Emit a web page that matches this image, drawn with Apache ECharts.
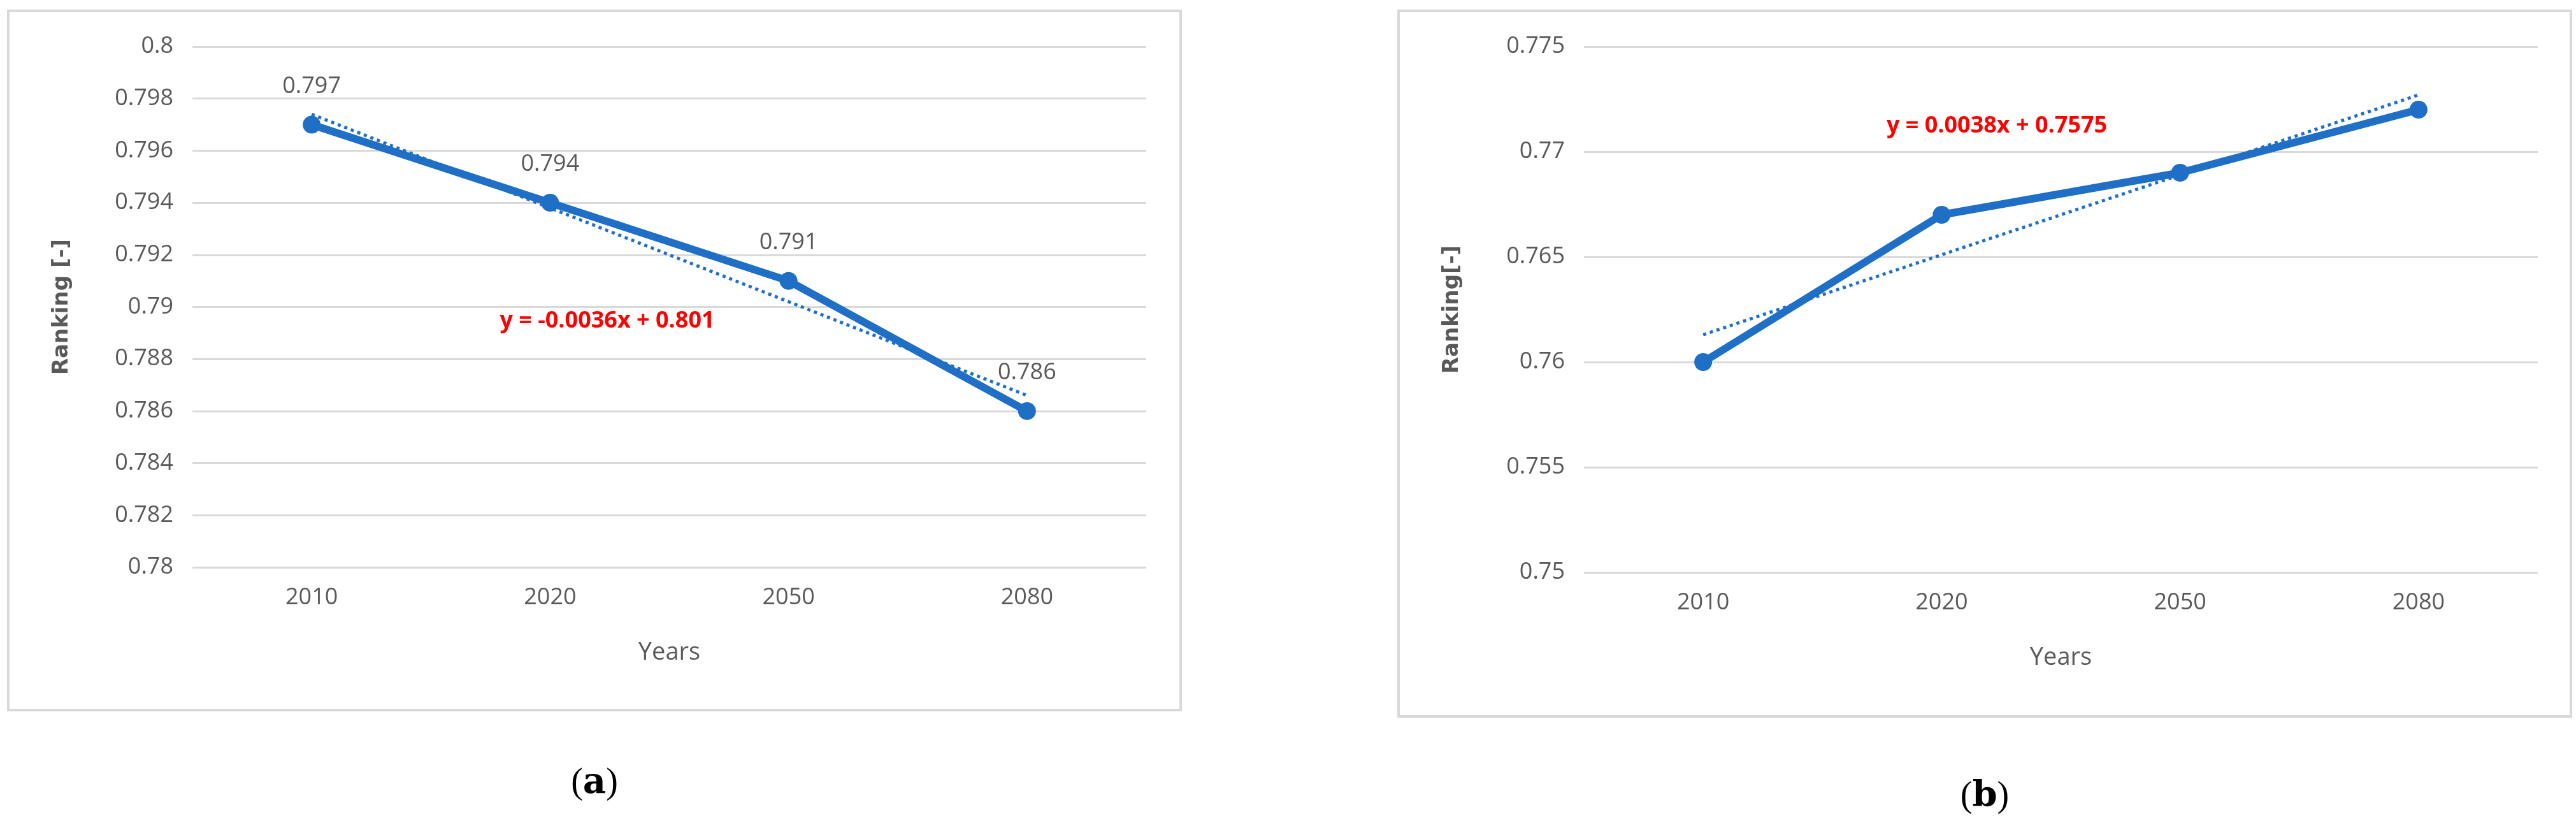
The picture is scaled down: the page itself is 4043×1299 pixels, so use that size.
<!DOCTYPE html>
<html><head><meta charset="utf-8">
<script src="https://cdn.jsdelivr.net/npm/echarts@6/dist/echarts.min.js"></script>
<style>html,body{margin:0;background:#fff}#c{width:4043px;height:1299px}</style>
</head><body><div id="c"></div>
<script>
const years = ['2010','2020','2050','2080'];
const rankA = [0.797, 0.794, 0.791, 0.786];
const trendA = [0.7974, 0.7938, 0.7902, 0.7866];
const rankB = [0.760, 0.767, 0.769, 0.772];
const trendB = [0.7613, 0.7651, 0.7689, 0.7727];
const eqA = 'y = -0.0036x + 0.801';
const eqB = 'y = 0.0038x + 0.7575';

const blue = '#1f6fc6';
const gray = '#595959';
const font = '"Liberation Sans Narrow","Open Sans",sans-serif';
const chart = echarts.init(document.getElementById('c'));

function xAxis(i){return {type:'category',gridIndex:i,data:years,boundaryGap:true,
  axisLine:{show:false},axisTick:{show:false},
  axisLabel:{color:gray,fontSize:36,fontFamily:font,margin:30},
  name:'Years',nameLocation:'middle',nameGap:115,nameTextStyle:{color:gray,fontSize:38,fontFamily:font}};}
function yAxis(i,min,max,intv,name,gap){return {type:'value',gridIndex:i,min:min,max:max,interval:intv,
  axisLine:{show:false},axisTick:{show:false},
  splitLine:{lineStyle:{color:'#d9d9d9',width:3}},
  axisLabel:{color:gray,fontSize:36,fontFamily:font,margin:30,formatter:v=>String(+v.toFixed(4))},
  name:name,nameLocation:'middle',nameGap:gap,nameRotate:90,
  nameTextStyle:{color:gray,fontSize:34,fontWeight:'bold',fontFamily:'"DejaVu Sans",sans-serif'}};}

chart.setOption({
  animation:false,
  grid:[{left:302,top:73,width:1497,height:817},{left:2486,top:73,width:1497,height:825}],
  xAxis:[xAxis(0),xAxis(1)],
  yAxis:[yAxis(0,0.78,0.8,0.002,'Ranking [-]',188),yAxis(1,0.75,0.775,0.005,'Ranking[-]',190)],
  series:[
    {type:'line',xAxisIndex:0,yAxisIndex:0,data:rankA,lineStyle:{color:blue,width:12},
     itemStyle:{color:blue},symbol:'circle',symbolSize:28,
     label:{show:true,position:'top',distance:28,color:gray,fontSize:36,fontFamily:font},z:3},
    {type:'line',xAxisIndex:0,yAxisIndex:0,data:trendA,symbol:'none',
     lineStyle:{color:blue,width:5,type:[5,6]},z:4},
    {type:'line',xAxisIndex:1,yAxisIndex:1,data:rankB,lineStyle:{color:blue,width:12},
     itemStyle:{color:blue},symbol:'circle',symbolSize:28,z:3},
    {type:'line',xAxisIndex:1,yAxisIndex:1,data:trendB,symbol:'none',
     lineStyle:{color:blue,width:5,type:[5,6]},z:4}
  ],
  graphic:[
    {type:'rect',shape:{x:13,y:17,width:1840,height:1097},style:{fill:'none',stroke:'#d9d9d9',lineWidth:4},z:-1},
    {type:'rect',shape:{x:2195,y:17,width:1840,height:1107},style:{fill:'none',stroke:'#d9d9d9',lineWidth:4},z:-1},
    {type:'text',x:953,y:504,style:{text:eqA,fill:'#ff0000',font:'bold 36px '+font,align:'center',verticalAlign:'middle'}},
    {type:'text',x:3134,y:198,style:{text:eqB,fill:'#ff0000',font:'bold 36px '+font,align:'center',verticalAlign:'middle'}},
    {type:'text',x:933,y:1229,style:{text:'({b|a})',rich:{b:{fontWeight:'bold',fontSize:56,fontFamily:'"DejaVu Serif",serif'}},fill:'#000',font:'56px "Liberation Serif",serif',align:'center',verticalAlign:'middle'}},
    {type:'text',x:3115,y:1250,style:{text:'({b|b})',rich:{b:{fontWeight:'bold',fontSize:56,fontFamily:'"DejaVu Serif",serif'}},fill:'#000',font:'56px "Liberation Serif",serif',align:'center',verticalAlign:'middle'}}
  ]
});
</script></body></html>
